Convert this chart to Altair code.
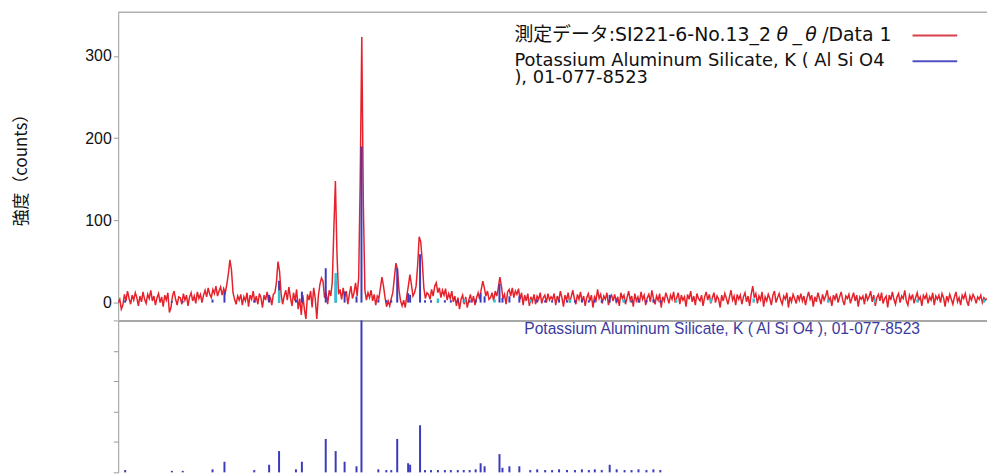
import altair as alt
import pandas as pd

# ---------------- data ----------------
two_theta_start = 10.0
two_theta_step = 0.125

# measured intensity (counts), 2θ = 10.000 ... 80.000 in 0.125° steps (40 values per 5°)
intensity = [
    # 10.000-14.875
    0, 4, -8, -3, 10, 2, 14, 5, -2, 9, 3, 12, 6, -4, 8, 1, 13, 4, -1, 10,
    5, 15, 2, 8, -3, 6, 11, 0, 7, -5, 9, 3, 12, -12, -6, 8, 14, 4, -3, 7,
    # 15.000-19.875
    6, -2, 11, 3, 9, -4, 7, 12, 2, 8, -1, 13, 5, 10, 0, 9, 15, 7, 18, 10,
    6, 16, 11, 20, 8, 14, 19, 9, 17, 12, 22, 35, 52, 40, 12, 4, -2, 8, 3, 10,
    # 20.000-24.875
    -3, 7, 2, 12, -5, 9, 4, 14, 0, 8, -2, 11, 6, -6, 9, 3, 13, 1, 7, -3,
    10, 12, 25, 50, 38, 10, -2, 8, 15, 3, 19, 6, -4, 12, 2, 16, -8, 5, -15, 9,
    # 25.000-29.875
    -8, -20, 10, 3, 14, -6, 18, 5, -20, 8, 22, 30, 26, 6, 12, -2, 15, 8, 25, 90,
    148, 60, 10, 16, 4, 18, 7, 14, -2, 10, 20, 5, 12, 24, 8, 30, 150, 323, 120, 15,
    # 30.000-34.875
    3, 12, 6, 15, 2, 10, -3, 8, 5, 18, 31, 20, 6, -5, 2, -4, 5, 12, 30, 48,
    40, 15, 2, -4, 3, -6, 8, 20, 34, 22, 8, 12, 20, 45, 80, 74, 50, 18, 5, 12,
    # 35.000-39.875
    10, 4, 16, 8, 20, 24, 12, 18, 6, 15, 9, 17, 3, 11, 5, 14, 1, 8, -4, 6,
    -8, 4, 9, -2, 7, -6, 3, 10, 0, 8, -3, 6, 12, 4, 16, 26, 18, 8, 14, 4,
    # 40.000-44.875
    6, 12, 2, 14, 8, 18, 31, 20, 5, 10, -2, 13, 16, 8, 18, 6, 14, 10, 17, 4,
    12, -3, 9, 2, 11, -4, 7, 1, 10, -2, 8, 4, 12, -1, 6, 9, 0, 11, 3, 7,
    # 45.000-49.875
    4, 11, -3, 8, 2, 14, 6, -5, 9, 3, 12, 0, 7, 15, 5, -2, 10, 4, 13, 1,
    8, -4, 6, 11, 2, 9, -6, 7, 3, 16, 5, 10, -1, 8, 4, 12, -3, 6, 9, 2,
    # 50.000-54.875
    10, 1, 7, -4, 12, 5, 9, -2, 6, 14, 3, 8, -5, 11, 2, 7, 0, 13, 4, 9,
    -3, 6, 10, 1, 15, 5, -2, 8, 3, 11, -6, 7, 2, 12, 6, -1, 9, 4, 13, 0,
    # 55.000-59.875
    6, 12, -2, 9, 3, 7, -5, 10, 4, 14, 1, 8, -3, 11, 5, 2, 9, -4, 7, 13,
    3, 10, -1, 6, 12, 0, 8, 4, -6, 9, 2, 11, 5, -2, 7, 15, 3, 8, -3, 10,
    # 60.000-64.875
    4, 9, -2, 7, 12, 1, 8, -4, 10, 20, 6, 11, -1, 8, 3, 13, -5, 7, 2, 10,
    5, -3, 9, 14, 0, 6, 11, 3, -2, 8, 4, 12, -6, 7, 1, 10, 5, -1, 9, 3,
    # 65.000-69.875
    11, 2, 8, -3, 6, 13, 4, 9, -5, 7, 1, 12, 5, -2, 10, 3, 8, 15, 2, 6,
    -4, 9, 4, 11, 0, 7, 13, 3, -3, 8, 5, 10, -1, 6, 12, 2, 9, -5, 7, 4,
    # 70.000-74.875
    8, -2, 11, 3, 7, 14, 1, 9, -4, 6, 10, 2, 12, -1, 5, 8, -6, 9, 3, 13,
    4, -2, 7, 11, 0, 8, 5, 15, 2, -3, 9, 4, 10, -1, 6, 12, 3, 7, -4, 9,
    # 75.000-79.875
    5, 10, -1, 7, 3, 12, -3, 8, 4, 9, 0, 11, 6, -5, 8, 2, 10, 4, -2, 7,
    13, 1, 6, -3, 9, 5, 11, 2, -4, 8, 3, 10, 6, -1, 7, 4, 9, 0, 6, 3,
    # 80.000
    5,
]

# reference pattern 01-077-8523 : peak positions (2θ) and relative intensity (%)
stick_pos = [10.56, 14.32, 15.2, 17.6, 18.56, 20.96, 22.16, 22.96, 24.32, 24.8,
             26.72, 27.52, 28.24, 29.2, 29.6, 30.96, 31.6, 32.0, 32.48, 33.36,
             33.52, 34.32, 34.72, 35.2, 35.76, 36.32, 36.8, 37.36, 37.84, 38.32,
             38.8, 39.2, 39.52, 40.72, 40.96, 41.52, 42.32, 43.2, 43.76, 44.4,
             44.96, 45.52, 46.16, 46.8, 47.36, 47.92, 48.4, 48.96, 49.6, 50.16,
             50.8, 51.36, 51.92, 52.56, 53.12, 53.68]
stick_pct = [1.5, 1, 1, 2, 7, 1.5, 5, 14, 2, 7,
             22, 14, 7, 4, 100, 2, 1.5, 1.5, 22, 6,
             5, 31, 1.5, 1.5, 1.5, 1.5, 1.5, 1.5, 1.5, 1.5,
             2, 6, 4, 12, 3, 4, 4, 1.5, 2, 1.5,
             1.5, 2, 1.5, 1.5, 2, 1.5, 2, 1.5, 5, 2,
             1.5, 1.5, 2, 1.5, 2, 1.5]
ref_scale_counts = 1.9   # counts per % in the upper panel

# secondary (cyan) markers in the upper panel
cyan_pos = [22.96, 27.52, 35.76, 37.92, 40.32, 43.2, 46.4, 50.72, 54.96, 57.76,
            61.2, 67.2, 70.96, 74.4, 79.76]
cyan_cnt = [15, 36, 5, 4, 4, 4, 4, 4, 4, 5, 5, 4, 5, 4, 4]

y_ticks_top = [0, 100, 200, 300]
y_ticks_bottom = [0, 20, 40, 60, 80, 100]

y_title = "強度（counts）"
# legend entry 1 : "測定データ:SI221-6-No.13_2θ_θ/Data 1" (set in pieces, as in the original)
legend_data_parts = ["測定データ:SI221-6-No.13_2", "θ", "_", "θ", "/Data 1"]
legend_ref_lines = ["Potassium Aluminum Silicate, K ( Al Si O4", "), 01-077-8523"]
ref_panel_label = "Potassium Aluminum Silicate, K ( Al Si O4 ), 01-077-8523"

# ---------------- tables ----------------
tt = [two_theta_start + two_theta_step * i for i in range(len(intensity))]
meas = pd.DataFrame({"tt": tt, "counts": intensity})
sticks = pd.DataFrame({"tt": stick_pos, "pct": stick_pct})
cyan = pd.DataFrame({"tt": cyan_pos, "counts": cyan_cnt})

RED = "#e5212b"
BLUE = "#3b3bbb"
CYAN = "#2fc4d2"
GRAY = "#9a9a9a"
LEGEND_FONT = "DejaVu Sans, Noto Sans CJK JP"

W = 875
H_TOP = 310
H_BOT = 153

xs = alt.Scale(domain=[10, 80], nice=False, zero=False)
ys_top = alt.Scale(domain=[-20.5, 354], nice=False, zero=False)
ys_bot = alt.Scale(domain=[0, 100], nice=False, zero=False)

x_axis_top = alt.Axis(orient="top", labels=False, ticks=False, title=None,
                      grid=False, domainColor="#b0b0b0", domainWidth=1.5)
y_axis_top = alt.Axis(values=y_ticks_top, title=y_title, grid=False,
                      domainColor=GRAY, tickColor=GRAY, tickSize=5,
                      labelFont="Liberation Sans", labelFontSize=16,
                      labelColor="#111", labelPadding=2,
                      titleFont="Noto Sans CJK JP", titleFontSize=17,
                      titleFontWeight="normal", titleColor="#111",
                      titlePadding=55)


def text_mark(s, x, y, size, color, font, baseline="middle", style="normal",
              line_height=None):
    kw = dict(text=s, align="left", baseline=baseline, fontSize=size,
              color=color, font=font, fontStyle=style)
    if line_height is not None:
        kw["lineHeight"] = line_height
    return alt.Chart(alt.Data(values=[{}])).mark_text(**kw).encode(
        x=alt.value(x), y=alt.value(y))


line = alt.Chart(meas).mark_line(color=RED, strokeWidth=1.5, clip=True).encode(
    x=alt.X("tt:Q", scale=xs, axis=x_axis_top),
    y=alt.Y("counts:Q", scale=ys_top, axis=y_axis_top),
)
blue_top = alt.Chart(sticks).transform_calculate(
    cnt=f"datum.pct * {ref_scale_counts}"
).mark_rule(color=BLUE, strokeWidth=2).encode(
    x=alt.X("tt:Q", scale=xs),
    y=alt.Y("cnt:Q", scale=ys_top),
    y2=alt.datum(0),
)
cyan_top = alt.Chart(cyan).mark_rule(color=CYAN, strokeWidth=2.5).encode(
    x=alt.X("tt:Q", scale=xs),
    y=alt.Y("counts:Q", scale=ys_top),
    y2=alt.datum(0),
)

leg_red = alt.Chart(alt.Data(values=[{}])).mark_rule(color="#d8404a", strokeWidth=2).encode(
    x=alt.value(800), x2=alt.value(845), y=alt.value(24))
leg_blue = alt.Chart(alt.Data(values=[{}])).mark_rule(color="#5050c4", strokeWidth=2).encode(
    x=alt.value(800), x2=alt.value(845), y=alt.value(50))

part_x = [399, 663, 679, 692, 709]
part_style = ["normal", "italic", "normal", "italic", "normal"]
legend_row1 = [
    text_mark(p, x, 30, 19, "#111", LEGEND_FONT, baseline="alphabetic", style=s)
    for p, x, s in zip(legend_data_parts, part_x, part_style)
]

top = alt.layer(
    line, blue_top, cyan_top,
    *legend_row1,
    text_mark(legend_ref_lines, 399, 55, 18, "#111", LEGEND_FONT,
              baseline="alphabetic", line_height=17),
    leg_red, leg_blue,
).properties(width=W, height=H_TOP)

bottom = alt.layer(
    alt.Chart(sticks).mark_rule(color=BLUE, strokeWidth=2).encode(
        x=alt.X("tt:Q", scale=xs,
                axis=alt.Axis(orient="top", labels=False, ticks=False, title=None,
                              grid=False, domainColor="#8a8a8a", domainWidth=1.5)),
        y=alt.Y("pct:Q", scale=ys_bot,
                axis=alt.Axis(values=y_ticks_bottom, labels=False, title=None,
                              grid=False, tickSize=5, tickColor=GRAY,
                              domainColor=GRAY)),
        y2=alt.datum(0),
    ),
    text_mark(ref_panel_label, 409, 9, 15.7, "#3a3aa0", "Liberation Sans"),
).properties(width=W, height=H_BOT)

chart = alt.vconcat(top, bottom, spacing=0).properties(
    padding={"left": 4, "top": 2, "right": 0, "bottom": 0},
    background="white",
).configure_view(stroke=None)

chart.save("out.html", embed_options={"renderer": "svg", "actions": False})
